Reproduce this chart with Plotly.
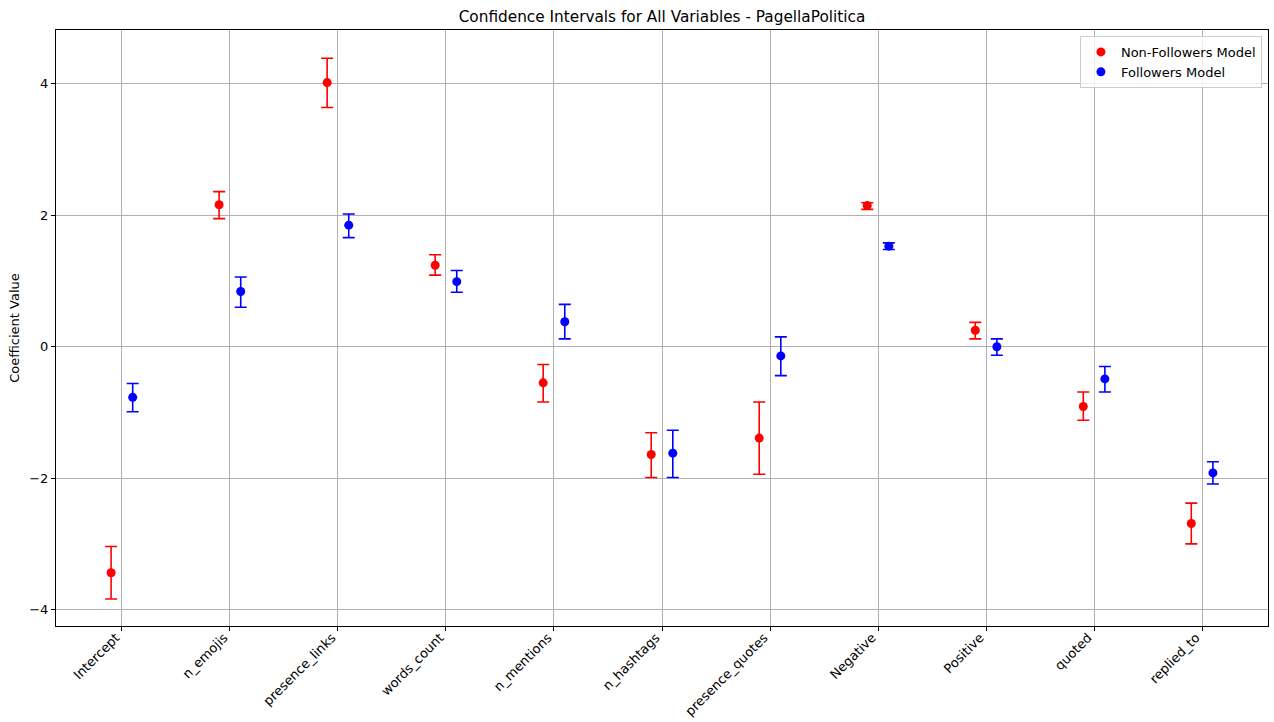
import plotly.graph_objects as go

variables = ["Intercept", "n_emojis", "presence_links", "words_count", "n_mentions",
             "n_hashtags", "presence_quotes", "Negative", "Positive", "quoted", "replied_to"]

nonf_coef = [-3.44, 2.16, 4.02, 1.24, -0.55, -1.64, -1.39, 2.15, 0.25, -0.91, -2.69]
nonf_low  = [-3.84, 1.95, 3.64, 1.09, -0.84, -1.99, -1.94, 2.09, 0.12, -1.12, -3.00]
nonf_high = [-3.04, 2.36, 4.39, 1.40, -0.27, -1.31, -0.84, 2.19, 0.37, -0.69, -2.38]

fol_coef = [-0.77, 0.84, 1.85, 0.99, 0.38, -1.62, -0.14, 1.53, 0.00, -0.49, -1.92]
fol_low  = [-0.99, 0.60, 1.66, 0.83, 0.12, -1.99, -0.44, 1.48, -0.13, -0.69, -2.09]
fol_high = [-0.56, 1.06, 2.02, 1.16, 0.645, -1.27, 0.15, 1.58, 0.12, -0.30, -1.75]

offset = 0.1
idx = list(range(len(variables)))

fig = go.Figure()

def add_series(coef, low, high, shift, color, name):
    fig.add_trace(go.Scatter(
        x=[i + shift for i in idx], y=coef, mode="markers", name=name,
        marker=dict(color=color, size=9),
        error_y=dict(type="data", symmetric=False,
                     array=[h - c for h, c in zip(high, coef)],
                     arrayminus=[c - l for c, l in zip(coef, low)],
                     color=color, thickness=1.6, width=6),
    ))

add_series(nonf_coef, nonf_low, nonf_high, -offset, "red", "Non-Followers Model")
add_series(fol_coef, fol_low, fol_high, offset, "blue", "Followers Model")

font = "DejaVu Sans, Arial, sans-serif"
fig.update_layout(
    width=1274, height=722,
    paper_bgcolor="white", plot_bgcolor="white",
    margin=dict(l=56, r=6, t=30, b=96),
    title=dict(text="Confidence Intervals for All Variables - PagellaPolitica",
               x=(56 + 1268) / 2 / 1274, xanchor="center", y=1 - 17 / 722, yanchor="middle",
               font=dict(family=font, size=15.3, color="black")),
    font=dict(family=font, size=13, color="black"),
    showlegend=True,
    legend=dict(x=0.995, y=0.99, xanchor="right", yanchor="top",
                bgcolor="rgba(255,255,255,0.8)", bordercolor="#cccccc", borderwidth=1,
                font=dict(family=font, size=13), tracegroupgap=0),
    xaxis=dict(range=[-0.61, 10.61], tickmode="array", tickvals=idx, ticktext=variables,
               tickangle=-45, showgrid=True, gridcolor="#b0b0b0", gridwidth=1,
               showline=True, linecolor="black", linewidth=1, mirror=True,
               ticks="outside", ticklen=4, tickcolor="black", zeroline=False,
               ticklabelshift=-6, ticklabelstandoff=-6,
               automargin=False, tickfont=dict(family=font, size=13)),
    yaxis=dict(range=[-4.25, 4.82], tickvals=[-4, -2, 0, 2, 4],
               showgrid=True, gridcolor="#b0b0b0", gridwidth=1,
               showline=True, linecolor="black", linewidth=1, mirror=True,
               ticks="outside", ticklen=4, tickcolor="black", zeroline=False,
               automargin=False,
               title=dict(text="Coefficient Value", font=dict(family=font, size=13), standoff=6),
               tickfont=dict(family=font, size=13)),
)

fig.write_html("out.html", config={"displayModeBar": False},
               post_script="document.body.style.margin='0';document.body.style.overflow='hidden';")
